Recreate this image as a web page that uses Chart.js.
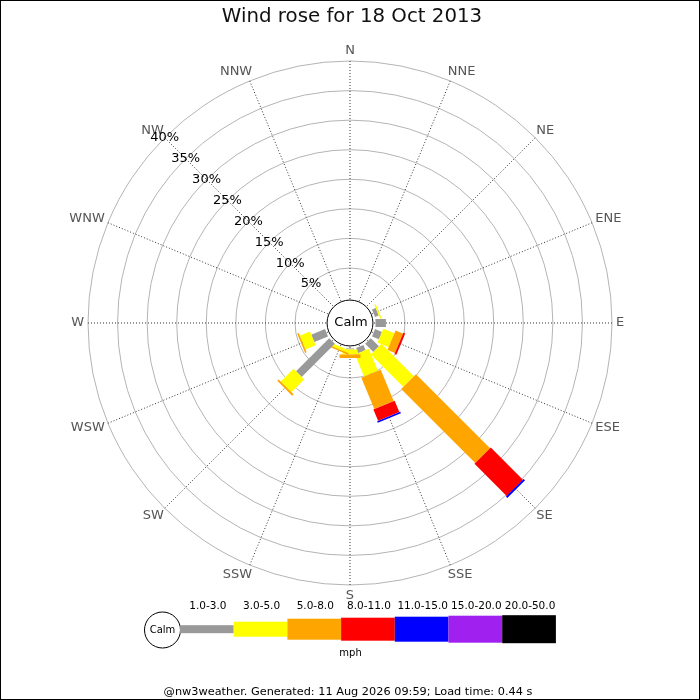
<!DOCTYPE html>
<html>
<head>
<meta charset="utf-8">
<script src="https://cdn.jsdelivr.net/npm/chart.js@4/dist/chart.umd.min.js"></script>
<style>
  body { margin: 0; background: #fff; }
  canvas { display: block; }
</style>
</head>
<body>
<canvas id="rose" width="700" height="700"></canvas>
<script>
// directions, clockwise from north
const directions = ["N", "NNE", "NE", "ENE", "E", "ESE", "SE", "SSE",
                    "S", "SSW", "SW", "WSW", "W", "WNW", "NW", "NNW"];
const speedBands = ["1.0-3.0", "3.0-5.0", "5.0-8.0", "8.0-11.0",
                    "11.0-15.0", "15.0-20.0", "20.0-50.0"];

// % of the day in each band, per direction
const band1to3   = [0, 0, 0, 0.68, 1.77, 1.27, 1.94, 0.93, 0.17, 0, 7.92, 2.51, 0, 0, 0, 0];
const band3to5   = [0, 0, 0, 0.25, 0, 2.03, 7.76, 4.05, 0.84, 0.5, 3.05, 1.86, 0, 0, 0, 0];
const band5to8   = [0, 0, 0, 0, 0, 1.35, 17.72, 5.74, 0.6, 0.25, 0.34, 0.27, 0, 0, 0, 0];
const band8to11  = [0, 0, 0, 0, 0, 0.34, 7.68, 2.08, 0, 0, 0, 0, 0, 0, 0, 0];
const band11to15 = [0, 0, 0, 0, 0, 0, 0.34, 0.29, 0, 0, 0, 0, 0, 0, 0, 0];
const band15to20 = [0, 0, 0, 0, 0, 0, 0, 0, 0, 0, 0, 0, 0, 0, 0, 0];
const band20to50 = [0, 0, 0, 0, 0, 0, 0, 0, 0, 0, 0, 0, 0, 0, 0, 0];

const bands = [band1to3, band3to5, band5to8, band8to11, band11to15, band15to20, band20to50];
const bandColours = ["#999999", "#ffff00", "#ffa500", "#ff0000", "#0000ff", "#a020f0", "#000000"];
const bandWidths = [8, 15, 21, 23, 25, 27, 28];

const FONT = "'DejaVu Sans', sans-serif";

// stack the bands so each dataset holds the outer edge of its segment
const datasets = [];
let running = directions.map(() => 0);
bands.forEach((band, k) => {
  running = running.map((v, i) => v + band[i]);
  datasets.push({
    label: speedBands[k],
    data: running.slice(),
    borderWidth: 0,
    pointRadius: 0,
    pointHoverRadius: 0,
    fill: false,
    showLine: false,
  });
});

const windRose = {
  id: "windRose",
  beforeDatasetsDraw(chart) {
    const s = chart.scales.r;
    const ctx = chart.ctx;
    ctx.save();
    ctx.beginPath();
    ctx.arc(s.xCenter, s.yCenter, s.getDistanceFromCenterForValue(0) - 2.5, 0, Math.PI * 2);
    ctx.fillStyle = "#fff";
    ctx.fill();
    ctx.strokeStyle = "#000";
    ctx.lineWidth = 1;
    ctx.stroke();
    ctx.fillStyle = "#000";
    ctx.font = "13px " + FONT;
    ctx.textAlign = "center";
    ctx.textBaseline = "middle";
    ctx.fillText("Calm", s.xCenter + 1, s.yCenter);
    ctx.restore();
  },
  afterDatasetsDraw(chart) {
    const s = chart.scales.r;
    const ctx = chart.ctx;
    ctx.save();
    ctx.lineCap = "butt";
    directions.forEach((d, i) => {
      let prev = s.getPointPositionForValue(i, 0);
      bands.forEach((band, k) => {
        const pt = chart.getDatasetMeta(k).data[i];
        if (band[i] > 0) {
          ctx.beginPath();
          ctx.moveTo(prev.x, prev.y);
          ctx.lineTo(pt.x, pt.y);
          ctx.strokeStyle = bandColours[k];
          ctx.lineWidth = bandWidths[k];
          ctx.stroke();
        }
        prev = { x: pt.x, y: pt.y };
      });
    });
    ctx.restore();
  },
  afterDraw(chart) {
    const s = chart.scales.r;
    const ctx = chart.ctx;
    ctx.save();
    ctx.textAlign = "center";
    ctx.textBaseline = "middle";

    // title
    ctx.fillStyle = "#111";
    ctx.font = "19.8px " + FONT;
    ctx.fillText("Wind rose for 18 Oct 2013", 352, 17);

    // compass labels, nudged sideways by their width
    ctx.fillStyle = "#555";
    ctx.font = "13px " + FONT;
    directions.forEach((d, i) => {
      const a = (i * Math.PI) / 8;
      const w = ctx.measureText(d).width;
      const p = s.getPointPosition(i, s.drawingArea + 10.5);
      const sx = Math.abs(Math.sin(a)) < 0.01 ? 0 : Math.sign(Math.sin(a)) * (w / 2 - 6.5);
      ctx.fillText(d, p.x + sx, p.y);
    });

    // ring labels along the NW spoke
    ctx.fillStyle = "#000";
    s.ticks.forEach((t) => {
      if (t.value <= 0) return;
      const p = s.getPointPositionForValue(14, t.value);
      ctx.fillText(t.value + "%", p.x, p.y);
    });

    // speed key
    const keyX = 180, keyW = 53.7, keyY = 629.2;
    ctx.beginPath();
    ctx.arc(162.5, keyY + 0.8, 18, 0, Math.PI * 2);
    ctx.strokeStyle = "#000";
    ctx.lineWidth = 1;
    ctx.stroke();
    ctx.font = "10px " + FONT;
    ctx.fillText("Calm", 162.5, keyY + 1);
    speedBands.forEach((b, k) => {
      const x0 = keyX + k * keyW;
      ctx.fillStyle = bandColours[k];
      ctx.fillRect(x0, keyY - bandWidths[k] / 2, keyW, bandWidths[k]);
      ctx.fillStyle = "#000";
      ctx.font = "10.5px " + FONT;
      ctx.fillText(b, x0 + keyW / 2 + 1, 606.5);
    });
    ctx.font = "10px " + FONT;
    ctx.fillText("mph", 350.5, 653.3);

    // footer
    ctx.font = "11.3px " + FONT;
    ctx.fillText("@nw3weather. Generated: 11 Aug 2026 09:59; Load time: 0.44 s", 348, 692.5);

    // frame
    ctx.strokeStyle = "#000";
    ctx.strokeRect(0.5, 0.5, 699, 699);
    ctx.restore();
  },
};

new Chart(document.getElementById("rose"), {
  type: "radar",
  data: { labels: directions, datasets: datasets },
  options: {
    responsive: false,
    animation: false,
    devicePixelRatio: 1,
    layout: { padding: { left: 87.5, right: 87.5, top: 60.5, bottom: 114.5 } },
    plugins: { legend: { display: false }, tooltip: { enabled: false }, title: { display: false } },
    scales: {
      r: {
        min: -4.304,
        max: 40,
        ticks: { display: false, stepSize: 5 },
        pointLabels: { display: false },
        grid: {
          circular: true,
          lineWidth: 1,
          color: (c) => (c.tick && c.tick.value > 0 ? "#b4b4b4" : "rgba(0,0,0,0)"),
        },
        angleLines: { color: "#333", lineWidth: 1, borderDash: [1, 2] },
      },
    },
  },
  plugins: [windRose],
});
</script>
</body>
</html>
